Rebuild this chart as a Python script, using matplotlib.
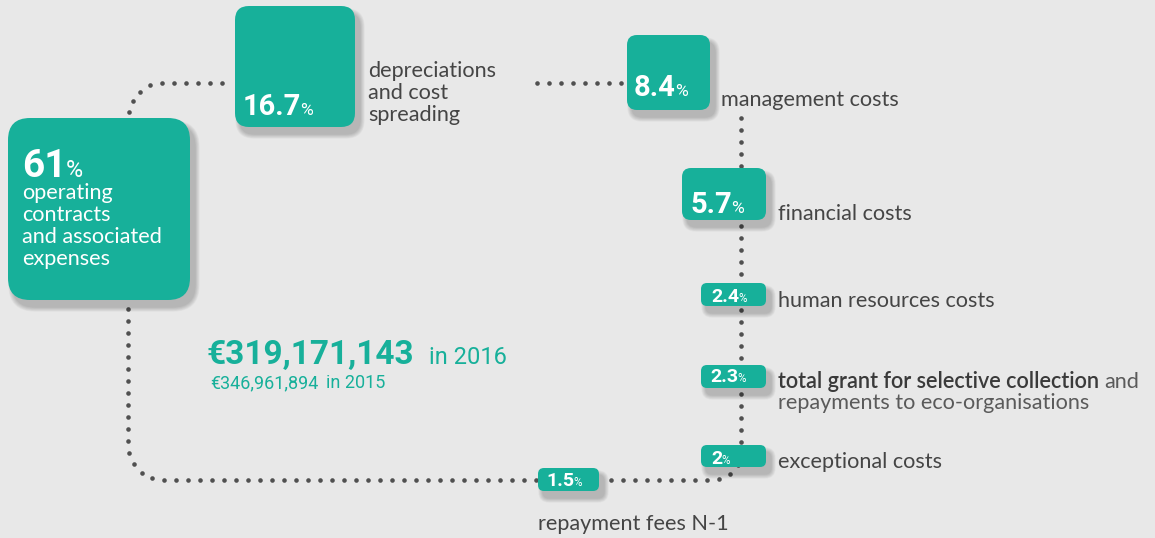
import numpy as np
import matplotlib.pyplot as plt
from matplotlib.patches import FancyBboxPatch

# data
shares = [61, 16.7, 8.4, 5.7, 2.4, 2.3, 2, 1.5]
labels = [
    "operating\ncontracts\nand associated\nexpenses",
    "depreciations\nand cost\nspreading",
    "management costs",
    "financial costs",
    "human resources costs",
    "total grant for selective collection",
    "exceptional costs",
    "repayment fees N-1",
]
grant_rest = ["and", "repayments to eco-organisations"]
totals = [319171143, 346961894]
years = [2016, 2015]

TEAL = "#17b09a"
BG = "#e8e8e8"
DOT = "#505050"
GREY = "#454545"
LBL_FONT = "Lato"
NUM_FONT = "Roboto"
LBL_SIZE = 15.6

# layout: box x, y, w, h, corner, number x, baseline, number size, label x, label baseline
layout = [
    (8, 118, 182, 182, 22, 22, 177, 28, 22, 199),
    (235, 6, 120, 121, 14, 243, 115, 21, 368, 77),
    (627, 35, 83, 75, 10, 634, 96, 21, 721, 106),
    (682, 168, 84, 52, 9, 690, 213, 21, 778, 220),
    (701, 283, 65, 23, 6, 711, 302, 14, 778, 307),
    (701, 365, 65, 23, 6, 710, 382, 14, 778, 388),
    (701, 445, 65, 22, 6, 711, 464, 14, 778, 468),
    (538, 468, 61, 23, 6, 546, 486, 14, 538, 530),
]

fig = plt.figure(figsize=(11.55, 5.38), dpi=100)
fig.patch.set_facecolor(BG)
ax = fig.add_axes([0, 0, 1, 1])
ax.set_xlim(0, 1155)
ax.set_ylim(538, 0)
ax.axis("off")
renderer = fig.canvas.get_renderer()


def path_points(parts, step=12.0):
    pts = []
    for p in parts:
        if p[0] == "line":
            (x0, y0), (x1, y1) = p[1], p[2]
            t = np.linspace(0, 1, 200)
            pts.append(np.column_stack([x0 + (x1 - x0) * t, y0 + (y1 - y0) * t]))
        else:
            (cx, cy), r, a0, a1 = p[1], p[2], p[3], p[4]
            a = np.radians(np.linspace(a0, a1, 200))
            pts.append(np.column_stack([cx + r * np.cos(a), cy + r * np.sin(a)]))
    pts = np.vstack(pts)
    d = np.concatenate([[0], np.cumsum(np.hypot(*np.diff(pts, axis=0).T))])
    s = np.arange(0, d[-1] + 0.1, step)
    return np.interp(s, d, pts[:, 0]), np.interp(s, d, pts[:, 1])


connectors = [
    [("line", (128, 124), (128, 118)), ("arc", (163, 118), 35, 180, 270),
     ("line", (163, 83), (232, 83))],
    [("line", (537, 83), (625, 83))],
    [("line", (741, 118), (741, 452)), ("arc", (713, 452), 28, 0, 90),
     ("line", (713, 480), (600, 480))],
    [("line", (536, 480), (163, 480)), ("arc", (163, 445), 35, 90, 180),
     ("line", (128, 445), (128, 302))],
]
for c in connectors:
    xs, ys = path_points(c)
    ax.plot(xs, ys, "o", ms=3.3, color=DOT, mec="none", zorder=1)

for i, v in enumerate(shares):
    bx, by, bw, bh, rr, nx, ny, ns, lx, ly = layout[i]
    # soft shadow
    for k in range(8):
        pad = 1 + k * 1.2
        ax.add_patch(FancyBboxPatch((bx + 5 - pad / 2, by + 7 - pad / 2), bw + pad, bh + pad,
                                    boxstyle=f"round,pad=0,rounding_size={rr + pad / 2}",
                                    fc="black", ec="none", alpha=0.028, zorder=2))
    ax.add_patch(FancyBboxPatch((bx, by), bw, bh, boxstyle=f"round,pad=0,rounding_size={rr}",
                                fc=TEAL, ec="none", zorder=3))
    t = ax.text(nx, ny, f"{v:g}", fontsize=ns, fontweight="bold", family=NUM_FONT,
                color="white", va="baseline", ha="left", zorder=4)
    bb = t.get_window_extent(renderer)
    ax.text(bb.x1 - 1, ny, "%", fontsize=ns * 0.6, family=NUM_FONT, color="white",
            va="baseline", ha="left", zorder=4)

    lines = labels[i].split("\n")
    if i == 0:
        for j, ln in enumerate(lines):
            ax.text(lx, ly + j * 22, ln, fontsize=LBL_SIZE, family=LBL_FONT, color="white",
                    va="baseline", zorder=4)
    elif i == 5:
        t = ax.text(lx, ly, lines[0], fontsize=LBL_SIZE, family=LBL_FONT, fontweight="semibold",
                    color="#3a3a3a", va="baseline")
        bb = t.get_window_extent(renderer)
        ax.text(bb.x1 + 5, ly, grant_rest[0], fontsize=LBL_SIZE, family=LBL_FONT,
                color="#5a5a5a", va="baseline")
        ax.text(lx, ly + 21, grant_rest[1], fontsize=LBL_SIZE, family=LBL_FONT,
                color="#5a5a5a", va="baseline")
    else:
        for j, ln in enumerate(lines):
            ax.text(lx, ly + j * 22, ln, fontsize=LBL_SIZE, family=LBL_FONT, color=GREY,
                    va="baseline")

# totals
t = ax.text(207, 364, f"€{totals[0]:,}", fontsize=24, fontweight="bold", family=NUM_FONT,
            color=TEAL, va="baseline")
bb = t.get_window_extent(renderer)
ax.text(bb.x1 + 14, 364, f"in {years[0]}", fontsize=17, family=NUM_FONT, color=TEAL,
        va="baseline")
t = ax.text(210, 388, f"€{totals[1]:,}", fontsize=13, family=NUM_FONT, color=TEAL,
            va="baseline")
bb = t.get_window_extent(renderer)
ax.text(bb.x1 + 8, 388, f"in {years[1]}", fontsize=13, family=NUM_FONT, color=TEAL,
        va="baseline")

fig.savefig("out.png", dpi=100, facecolor=BG)
